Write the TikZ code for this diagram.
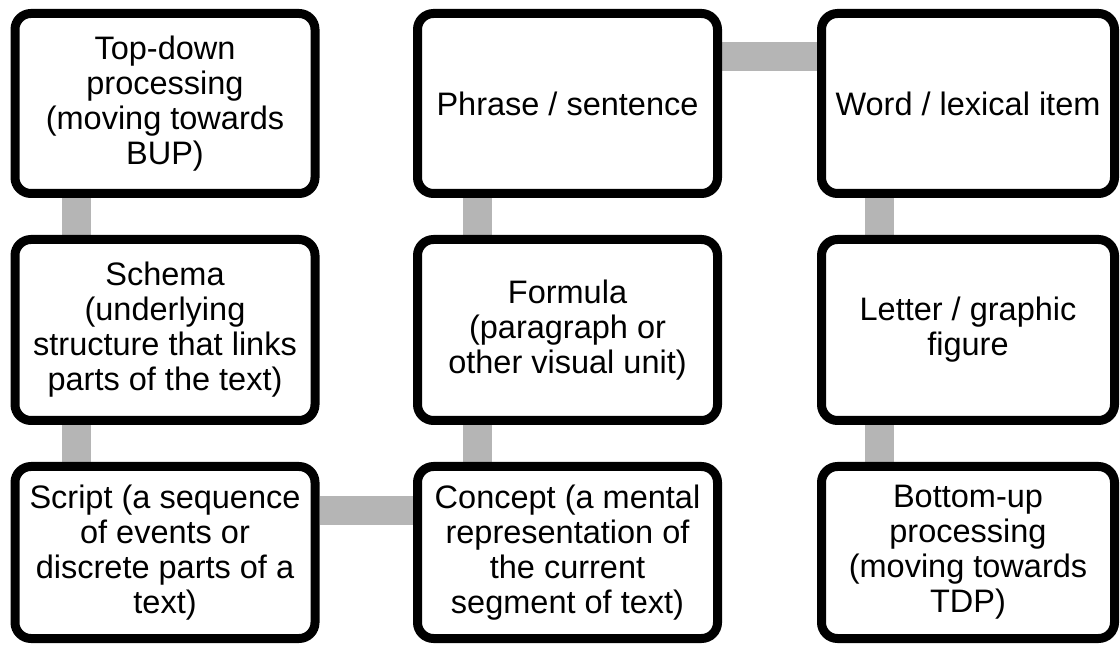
\documentclass[tikz,border=0pt]{standalone}
\usepackage{fontspec}
\setmainfont{Liberation Sans}
\usetikzlibrary{backgrounds,shadows}
\definecolor{linkgray}{RGB}{181,181,181}
\tikzset{
  stage/.style={draw=black, line width=9pt, rounded corners=16pt, fill=white,
    align=center, minimum width=300pt, minimum height=180pt,
    font=\fontsize{32.5}{35}\selectfont,
    drop shadow={shadow xshift=0pt, shadow yshift=-3pt, opacity=.25}},
  link/.style={line width=29pt, color=linkgray}
}
\begin{document}
\begin{tikzpicture}[x=1pt, y=1pt]
  \useasboundingbox (0,0) rectangle (1120,646);
  \node [stage] (tdp) at (165,542.5) {Top-down\\processing\\(moving towards\\BUP)};
  \node [stage, minimum height=181pt] (schema) at (165,316) {Schema\\(underlying\\structure that links\\parts of the text)};
  \node [stage, minimum height=172pt] (script) at (165,93.5) {Script (a sequence\\of events or\\discrete parts of a\\text)};
  \node [stage, minimum height=172pt] (concept) at (567.5,93.5) {Concept (a mental\\representation of\\the current\\segment of text)};
  \node [stage, minimum height=181pt] (formula) at (567.5,316) {Formula\\(paragraph or\\other visual unit)};
  \node [stage] (phrase) at (567.5,542.5) {Phrase / sentence};
  \node [stage, minimum width=293pt] (word) at (968,542.5) {Word / lexical item};
  \node [stage, minimum width=293pt, minimum height=181pt] (letter) at (968,316) {Letter / graphic\\figure};
  \node [stage, minimum width=293pt, minimum height=172pt] (bup) at (968,93.5) {Bottom-up\\processing\\(moving towards\\TDP)};
\begin{scope}[on background layer]
  \draw [link] ([xshift=65.5pt]tdp.south west) -- ([xshift=65.5pt]schema.north west);
  \draw [link] ([xshift=65.5pt]schema.south west) -- ([xshift=65.5pt]script.north west);
  \draw [link] ([yshift=-49pt]script.north east) -- ([yshift=-49pt]concept.north west);
  \draw [link] ([xshift=64pt]concept.north west) -- ([xshift=64pt]formula.south west);
  \draw [link] ([xshift=64pt]formula.north west) -- ([xshift=64pt]phrase.south west);
  \draw [link] ([yshift=-48pt]phrase.north east) -- ([yshift=-48pt]word.north west);
  \draw [link] ([xshift=62pt]word.south west) -- ([xshift=62pt]letter.north west);
  \draw [link] ([xshift=62pt]letter.south west) -- ([xshift=62pt]bup.north west);
\end{scope}
\end{tikzpicture}
\end{document}
